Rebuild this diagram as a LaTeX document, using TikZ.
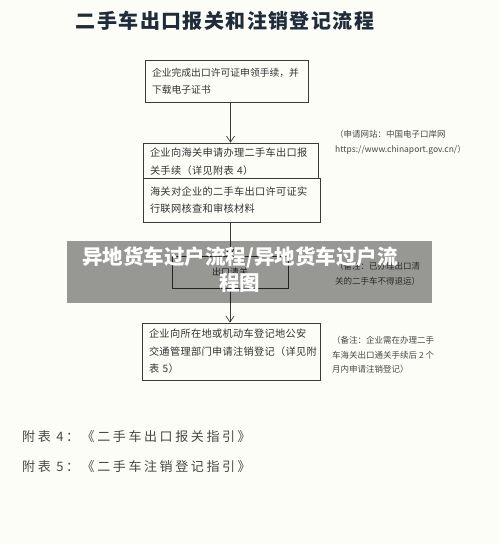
\documentclass[tikz,border=0pt]{standalone}
\usepackage{fontspec}
\setmainfont{Noto Sans CJK SC}
\usepackage{xcolor}
\usetikzlibrary{arrows.meta, positioning}

\definecolor{pagebg}{HTML}{FDFDF8}
\definecolor{inkline}{HTML}{3A3A3A}
\definecolor{titleblue}{HTML}{1E2C3C}
\definecolor{notegray}{HTML}{474747}

\tikzset{
  stepbox/.style={draw=inkline, line width=0.7pt, fill=pagebg, align=left, inner xsep=7pt,
    font=\fontsize{10.2}{17.5}\selectfont\addfontfeature{LetterSpace=3}, text=black!80},
  sidenote/.style={anchor=west, align=left, inner sep=0pt, text=notegray,
    font=\fontsize{8.5}{15}\selectfont},
  flowarrow/.style={draw=inkline, line width=0.7pt, -{Straight Barb[length=6pt, width=8pt]}}
}

\begin{document}
\begin{tikzpicture}[x=1pt, y=-1pt]
    \useasboundingbox[fill=pagebg] (0,0) rectangle (500,544);

    % title
    \node[text=titleblue, font=\fontsize{20}{24}\selectfont\bfseries\addfontfeature{LetterSpace=7}] (title) at (225,21) {二手车出口报关和注销登记流程};

    % steps
    \node[stepbox, minimum width=163, minimum height=42, text width=149, font=\fontsize{9.8}{17}\selectfont] (lic) at (226.5,81) {企业完成出口许可证申领手续，并\\下载电子证书};
    \node[stepbox, minimum width=175, minimum height=37, text width=161] (decl) at (230.5,161.5) {企业向海关申请办理二手车出口报\\关手续（详见附表 4）};
    \node[stepbox, minimum width=177, minimum height=44, text width=163] (check) at (231.5,200) {海关对企业的二手车出口许可证实\\行联网核查和审核材料};
    \node[stepbox, minimum width=116, minimum height=32, align=center, font=\fontsize{9}{11}\selectfont] (clear) at (230,272) {出口清关};
    \node[stepbox, minimum width=178, minimum height=57, text width=164] (cancel) at (231,351.5) {企业向所在地或机动车登记地公安\\交通管理部门申请注销登记（详见附\\表 5）};

    \draw[flowarrow] (lic.south -| decl.north) -- (decl.north);
    \draw[flowarrow] (check.south -| clear.north) -- (clear.north);
    \draw[flowarrow] (clear.south) -- (clear.south |- cancel.north);

    % side notes
    \node[sidenote] (noteweb) at (335,142) {（申请网站：中国电子口岸网\\https://www.chinaport.gov.cn/）};
    \node[sidenote] (noteclear) at (335,274) {（备注：已办理出口清\\关的二手车不得退运）};
    \node[sidenote, font=\fontsize{8.5}{14.5}\selectfont] (notecancel) at (332,355) {（备注：企业需在办理二手\\车海关出口通关手续后 2 个\\月内申请注销登记）};

    % annexes
    \node[anchor=west, inner sep=0pt, text=notegray, font=\fontsize{13}{15}\selectfont\addfontfeature{LetterSpace=20}] (annex4) at (22,437) {附表 4：《二手车出口报关指引》};
    \node[anchor=west, inner sep=0pt, text=notegray, font=\fontsize{13}{15}\selectfont\addfontfeature{LetterSpace=20}] (annex5) at (22,467) {附表 5：《二手车注销登记指引》};

    % grey banner on top
    \node[fill=black, fill opacity=0.4, minimum width=365, minimum height=62, inner sep=0pt, anchor=north west] (mask) at (67,241) {};
    \node[text=white, align=center, font=\fontsize{20.5}{26}\selectfont\bfseries] (masktext) at (240,270) {异地货车过户流程/异地货车过户流\\程图};
\end{tikzpicture}
\end{document}
